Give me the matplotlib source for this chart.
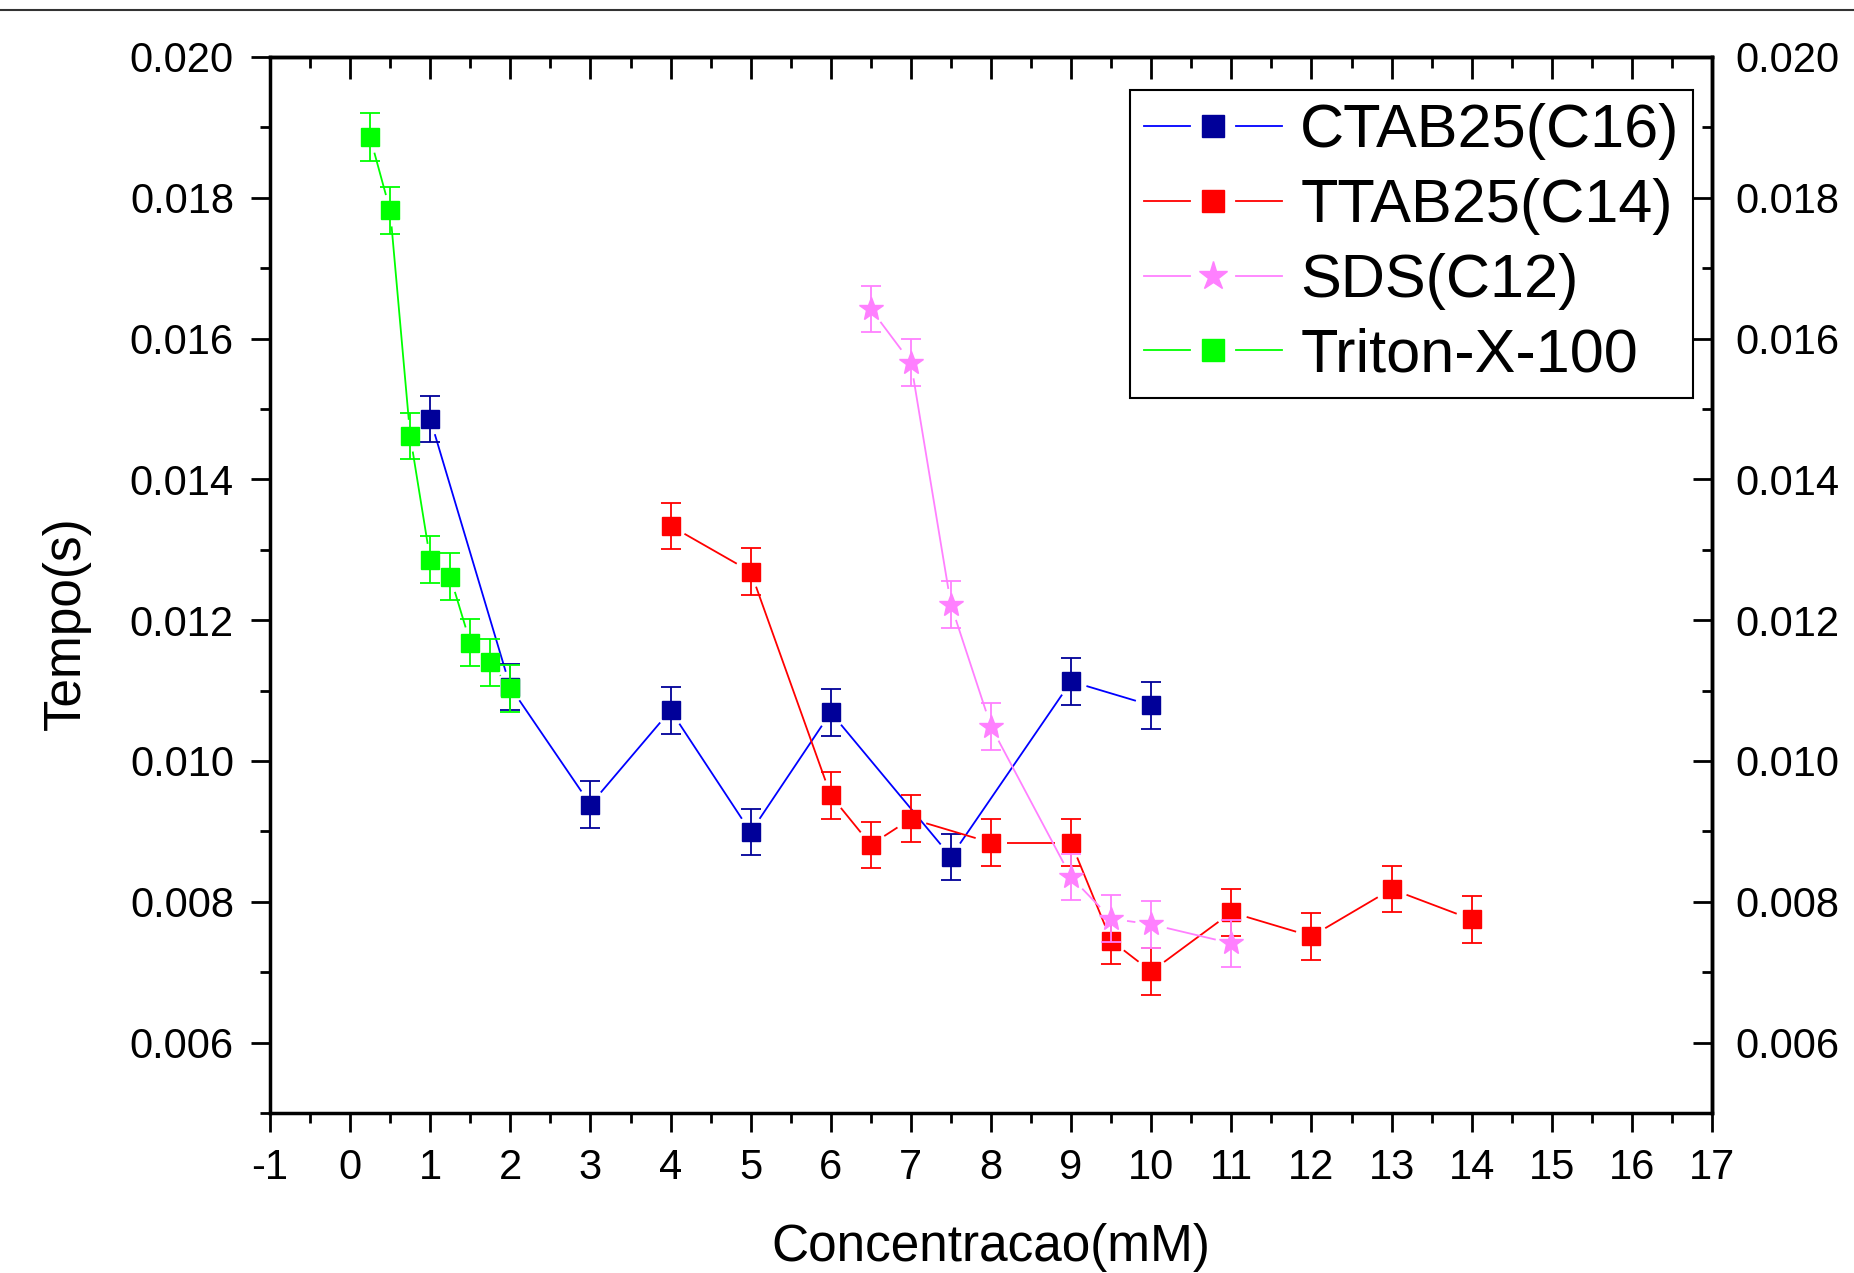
import numpy as np
import matplotlib
matplotlib.use('Agg')
import matplotlib.pyplot as plt
from matplotlib.lines import Line2D
from matplotlib.legend_handler import HandlerTuple
from matplotlib.ticker import MultipleLocator, FormatStrFormatter

plt.rcParams['font.family'] = ['Liberation Sans', 'DejaVu Sans']

# --- data ---
ctab_x = [1, 2, 3, 4, 5, 6, 7.5, 9, 10]
ctab_y = [0.01486, 0.01105, 0.00938, 0.01072, 0.00899, 0.01069, 0.00864, 0.01113, 0.01079]
ctab_err = [0.00033, 0.00033, 0.00033, 0.00033, 0.00033, 0.00033, 0.00033, 0.00033, 0.00033]

ttab_x = [4, 5, 6, 6.5, 7, 8, 9, 9.5, 10, 11, 12, 13, 14]
ttab_y = [0.01334, 0.01269, 0.00951, 0.00881, 0.00918, 0.00884, 0.00884,
          0.00745, 0.00701, 0.00785, 0.00751, 0.00818, 0.00775]
ttab_err = [0.00033, 0.00033, 0.00033, 0.00033, 0.00033, 0.00033, 0.00033,
            0.00033, 0.00033, 0.00033, 0.00033, 0.00033, 0.00033]

sds_x = [6.5, 7, 7.5, 8, 9, 9.5, 10, 11]
sds_y = [0.01642, 0.01566, 0.01222, 0.01049, 0.00835, 0.00776, 0.00768, 0.00741]
sds_err = [0.00033, 0.00033, 0.00033, 0.00033, 0.00033, 0.00033, 0.00033, 0.00033]

triton_x = [0.25, 0.5, 0.75, 1, 1.25, 1.5, 1.75, 2]
triton_y = [0.01886, 0.01782, 0.01462, 0.01286, 0.01262, 0.01168, 0.01140, 0.01103]
triton_err = [0.00034, 0.00033, 0.00033, 0.00033, 0.00033, 0.00033, 0.00033, 0.00033]

labels = ['CTAB25(C16)', 'TTAB25(C14)', 'SDS(C12)', 'Triton-X-100']

# (x, y, err, line colour, marker colour, marker, marker size)
series = [
    (ctab_x, ctab_y, ctab_err, '#0000ff', '#000099', 's', 13.5),
    (ttab_x, ttab_y, ttab_err, '#ff0000', '#ff0000', 's', 13.5),
    (sds_x, sds_y, sds_err, '#ff80ff', '#ff80ff', '*', 18),
    (triton_x, triton_y, triton_err, '#00ff00', '#00ff00', 's', 13.5),
]

W, H, DPI = 1854, 1273, 100
fig = plt.figure(figsize=(W / DPI, H / DPI), dpi=DPI)
ax = fig.add_axes([270 / W, 1 - 1113 / H, 1442 / W, 1056 / H])
ax.set_xlim(-1, 17)
ax.set_ylim(0.005, 0.020)

def gapped_line(ax, x, y, color, gap_px, lw, z):
    # Origin-style: segments stop short of the markers
    pts = ax.transData.transform(np.column_stack([x, y]))
    inv = ax.transData.inverted()
    for p0, p1 in zip(pts[:-1], pts[1:]):
        d = p1 - p0
        L = np.hypot(d[0], d[1])
        if L <= 2 * gap_px:
            continue
        u = d / L
        seg = inv.transform(np.array([p0 + u * gap_px, p1 - u * gap_px]))
        ax.plot(seg[:, 0], seg[:, 1], color=color, lw=lw, zorder=z,
                solid_capstyle='butt')

for i, (x, y, e, lc, mc, m, ms) in enumerate(series):
    base = 10 + 10 * i
    gapped_line(ax, x, y, lc, 16, 1.3, base)
    ax.errorbar(x, y, yerr=e, fmt='none', ecolor=mc, elinewidth=1.3,
                capsize=7.5, capthick=1.3, zorder=base + 1)
    ax.plot(x, y, ls='none', marker=m, ms=ms, mfc=mc, mec=mc, mew=1,
            zorder=base + 2)

# axes styling
for s in ax.spines.values():
    s.set_linewidth(2.5)

TICK_FS = 30

ax.xaxis.set_major_locator(MultipleLocator(1))
ax.xaxis.set_minor_locator(MultipleLocator(0.5))
ax.yaxis.set_major_locator(MultipleLocator(0.002))
ax.yaxis.set_minor_locator(MultipleLocator(0.001))
ax.yaxis.set_major_formatter(FormatStrFormatter('%.3f'))
ax.xaxis.set_major_formatter(FormatStrFormatter('%d'))

ax.tick_params(axis='x', which='both', bottom=True, top=False, labelsize=TICK_FS,
               direction='out', pad=11)
ax.tick_params(axis='x', which='major', length=14, width=2)
ax.tick_params(axis='x', which='minor', length=7, width=2)

# top ticks inward
axt = ax.secondary_xaxis('top')
axt.xaxis.set_major_locator(MultipleLocator(1))
axt.xaxis.set_minor_locator(MultipleLocator(0.5))
axt.tick_params(which='both', direction='in', labeltop=False, width=2)
axt.tick_params(which='major', length=16)
axt.tick_params(which='minor', length=8)
axt.spines['top'].set_linewidth(2.5)

ax.tick_params(axis='y', which='both', left=True, right=False, labelsize=TICK_FS)
ax.tick_params(axis='y', which='major', direction='out', length=14, width=2, pad=12)
ax.tick_params(axis='y', which='minor', direction='out', length=7, width=2)

# right axis: inward ticks, labels repeated
axr = ax.secondary_yaxis('right')
axr.yaxis.set_major_locator(MultipleLocator(0.002))
axr.yaxis.set_minor_locator(MultipleLocator(0.001))
axr.yaxis.set_major_formatter(FormatStrFormatter('%.3f'))
axr.tick_params(which='both', direction='in', width=2, labelsize=TICK_FS)
axr.tick_params(which='major', length=14, pad=17)
axr.tick_params(which='minor', length=7)
axr.spines['right'].set_linewidth(2.5)

ax.set_xlabel('Concentracao(mM)', fontsize=37)
ax.set_ylabel('Tempo(s)', fontsize=37)
ax.xaxis.set_label_coords(0.5, -0.104)
ax.yaxis.set_label_coords(-0.124, 0.464)

# legend: line - marker - line
handles = []
for x, y, e, lc, mc, m, ms in series:
    handles.append((Line2D([], [], color=lc, lw=1.3),
                    Line2D([], [], ls='none', marker=m, ms=ms + 3, mfc=mc, mec=mc),
                    Line2D([], [], color=lc, lw=1.3)))
leg = ax.legend(handles, labels, handler_map={tuple: HandlerTuple(ndivide=3, pad=0.0)},
                loc='upper right', bbox_to_anchor=((1693 - 270) / 1442, 1 - (90 - 57) / 1056),
                borderaxespad=0, fontsize=44, handlelength=2.26, handletextpad=0.3,
                labelspacing=0.29, borderpad=0.22, fancybox=False, edgecolor='black',
                framealpha=1)
leg.get_frame().set_linewidth(1.5)
leg.set_zorder(100)

# thin rule across the very top of the image
fig.add_artist(Line2D([0, 1], [1 - 10 / H, 1 - 10 / H], transform=fig.transFigure,
                      color='#333333', lw=1.5))

fig.savefig('out.png', dpi=DPI)
